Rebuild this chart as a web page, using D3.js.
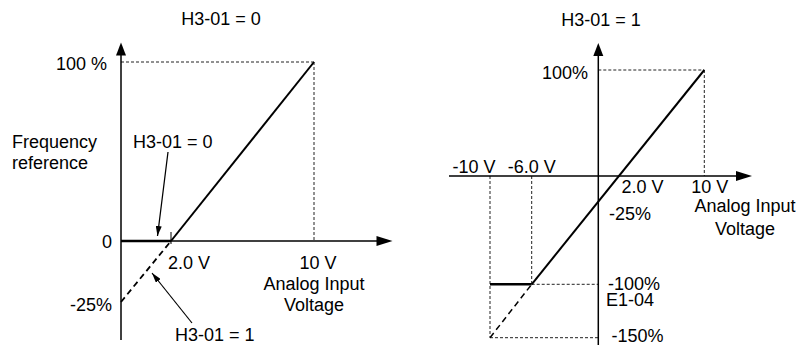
<!DOCTYPE html>
<html>
<head>
<meta charset="utf-8">
<script src="https://cdn.jsdelivr.net/npm/d3@7/dist/d3.min.js"></script>
<style>
  html, body { margin: 0; padding: 0; background: #fff; }
  svg text { font-family: "Liberation Sans", Arial, sans-serif; font-size: 18px; fill: #000; }
</style>
</head>
<body>
<svg id="chart" width="799" height="345"></svg>
<script>
// ---- H3-01 = 0 : unipolar input, negative part clamped ----
const uniVolts      = [0, 2, 10];          // V
const uniRefClamped = [0, 0, 100];         // % (solid, H3-01 = 0)
const uniExtVolts   = [0, 2];              // V
const uniRefExt     = [-25, 0];            // % (dashed, H3-01 = 1)
const uniXTicks     = ["2.0 V", "10 V"];
const uniYTicks     = ["100 %", "0", "-25%"];

// ---- H3-01 = 1 : bipolar input, lower limit E1-04 ----
const biVolts       = [-10, -6, 10];       // V
const biRef         = [-100, -100, 100];   // % (solid)
const biExtVolts    = [-10, -6];           // V
const biRefExt      = [-150, -100];        // % (dashed, beyond lower limit)
const biXTicks      = ["-10 V", "-6.0 V", "2.0 V", "10 V"];
const biYTicks      = ["100%", "-25%", "-100%", "-150%"];

const svg = d3.select("#chart");
const line = (sx, sy) => d3.line().x(d => sx(d[0])).y(d => sy(d[1]));

function arrowUp(g, x, y) {
  g.append("path").attr("d", `M${x},${y} L${x - 5},${y + 13} L${x + 5},${y + 13} Z`).attr("fill", "#000");
}
function arrowRight(g, x, y) {
  g.append("path").attr("d", `M${x},${y} L${x - 16},${y - 5} L${x - 16},${y + 5} Z`).attr("fill", "#000");
}
function dotted(g, x1, y1, x2, y2) {
  g.append("line").attr("x1", x1).attr("y1", y1).attr("x2", x2).attr("y2", y2)
    .attr("stroke", "#222").attr("stroke-width", 1).attr("stroke-dasharray", "3,2");
}
function label(g, txt, x, y, anchor) {
  g.append("text").attr("x", x).attr("y", y).attr("text-anchor", anchor || "start").text(txt);
}

// leader arrow marker
const defs = svg.append("defs");
defs.append("marker").attr("id", "tip").attr("viewBox", "0 0 10 6")
  .attr("refX", 10).attr("refY", 3).attr("markerWidth", 10).attr("markerHeight", 6)
  .attr("markerUnits", "userSpaceOnUse").attr("orient", "auto")
  .append("path").attr("d", "M0,0 L10,3 L0,6 Z").attr("fill", "#000");

// ================= left panel =================
{
  const g = svg.append("g");
  const x = d3.scaleLinear().domain([0, 2, 10]).range([121, 171, 314]);
  const y = d3.scaleLinear().domain([-25, 0, 100]).range([302, 241, 62]);
  const x0 = x(0), y0 = y(0);

  label(g, "H3-01 = 0", 221, 25, "middle");

  // guides
  dotted(g, x0, y(100), x(10), y(100));
  dotted(g, x(10), y(100), x(10), y0);

  // axes
  g.append("line").attr("x1", x0).attr("y1", 340).attr("x2", x0).attr("y2", 50)
    .attr("stroke", "#000").attr("stroke-width", 1.5);
  arrowUp(g, x0, 42.5);
  g.append("line").attr("x1", x0).attr("y1", y0).attr("x2", 380).attr("y2", y0)
    .attr("stroke", "#000").attr("stroke-width", 1.5);
  arrowRight(g, 392.5, y0);
  g.append("line").attr("x1", x(2)).attr("y1", y0 - 9).attr("x2", x(2)).attr("y2", y0 + 3)
    .attr("stroke", "#000").attr("stroke-width", 1);

  // transfer characteristics
  const solid = uniVolts.map((v, i) => [v, uniRefClamped[i]]);
  g.append("path").attr("d", line(x, y)(solid.slice(0, 2)))
    .attr("fill", "none").attr("stroke", "#000").attr("stroke-width", 2.5);
  g.append("path").attr("d", line(x, y)(solid.slice(1)))
    .attr("fill", "none").attr("stroke", "#000").attr("stroke-width", 2);
  const ext = uniExtVolts.map((v, i) => [v, uniRefExt[i]]);
  g.append("path").attr("d", line(x, y)(ext))
    .attr("fill", "none").attr("stroke", "#000").attr("stroke-width", 1.8).attr("stroke-dasharray", "6,4");

  // tick labels
  label(g, uniYTicks[0], 107, 70, "end");
  label(g, uniYTicks[1], 112, 248, "end");
  label(g, uniYTicks[2], 112, 311, "end");
  label(g, uniXTicks[0], x(2) - 3, 269);
  label(g, uniXTicks[1], x(10) + 4, 269, "middle");
  label(g, "Analog Input", 314, 290, "middle");
  label(g, "Voltage", 314, 311, "middle");
  label(g, "Frequency", 12, 148);
  label(g, "reference", 12, 169);

  // annotations
  label(g, "H3-01 = 0", 133, 148);
  g.append("line").attr("x1", 168).attr("y1", 152).attr("x2", 157.5).attr("y2", 236)
    .attr("stroke", "#000").attr("stroke-width", 1.2).attr("marker-end", "url(#tip)");
  label(g, "H3-01 = 1", 175, 341.3);
  g.append("line").attr("x1", 192).attr("y1", 323).attr("x2", 152).attr("y2", 273)
    .attr("stroke", "#000").attr("stroke-width", 1.2).attr("marker-end", "url(#tip)");
}

// ================= right panel =================
{
  const g = svg.append("g");
  const x = d3.scaleLinear().domain([-10, -6, 0, 10]).range([490, 531.7, 598.3, 704.3]);
  const y = d3.scaleLinear().domain([-150, -100, 0, 100]).range([337.7, 284.3, 176, 70]);
  const x0 = x(0), y0 = y(0);

  label(g, "H3-01 = 1", 601, 26, "middle");

  // guides
  dotted(g, x0, y(100), x(10), y(100));
  dotted(g, x(10), y(100), x(10), y0);
  dotted(g, x(-10), y0, x(-10), y(-150));
  dotted(g, x(-6), y0, x(-6), y(-100));
  dotted(g, x(-6), y(-100), x0, y(-100));
  dotted(g, x(-10), y(-150), x0, y(-150));

  // axes
  g.append("line").attr("x1", x0).attr("y1", 345).attr("x2", x0).attr("y2", 52)
    .attr("stroke", "#000").attr("stroke-width", 1.5);
  arrowUp(g, x0, 43);
  g.append("line").attr("x1", 449).attr("y1", y0).attr("x2", 740).attr("y2", y0)
    .attr("stroke", "#000").attr("stroke-width", 1.5);
  arrowRight(g, 752, y0);

  // transfer characteristics
  const solid = biVolts.map((v, i) => [v, biRef[i]]);
  g.append("path").attr("d", line(x, y)(solid.slice(0, 2)))
    .attr("fill", "none").attr("stroke", "#000").attr("stroke-width", 2.5);
  g.append("path").attr("d", line(x, y)(solid.slice(1)))
    .attr("fill", "none").attr("stroke", "#000").attr("stroke-width", 2);
  const ext = biExtVolts.map((v, i) => [v, biRefExt[i]]);
  g.append("path").attr("d", line(x, y)(ext))
    .attr("fill", "none").attr("stroke", "#000").attr("stroke-width", 1.5).attr("stroke-dasharray", "6,4");

  // tick labels
  label(g, biXTicks[0], x(-10) - 16, 172.5, "middle");
  label(g, biXTicks[1], x(-6), 172.5, "middle");
  label(g, biXTicks[2], x(2) + 2, 193);
  label(g, biXTicks[3], x(10) - 13, 193);
  label(g, "Analog Input", 745, 212, "middle");
  label(g, "Voltage", 745, 234.5, "middle");
  label(g, biYTicks[0], 588, 78.5, "end");
  label(g, biYTicks[1], 609, 219.5);
  label(g, biYTicks[2], 608, 289.5);
  label(g, "E1-04", 606, 305.5);
  label(g, biYTicks[3], 611.5, 341.5);
}
</script>
</body>
</html>
